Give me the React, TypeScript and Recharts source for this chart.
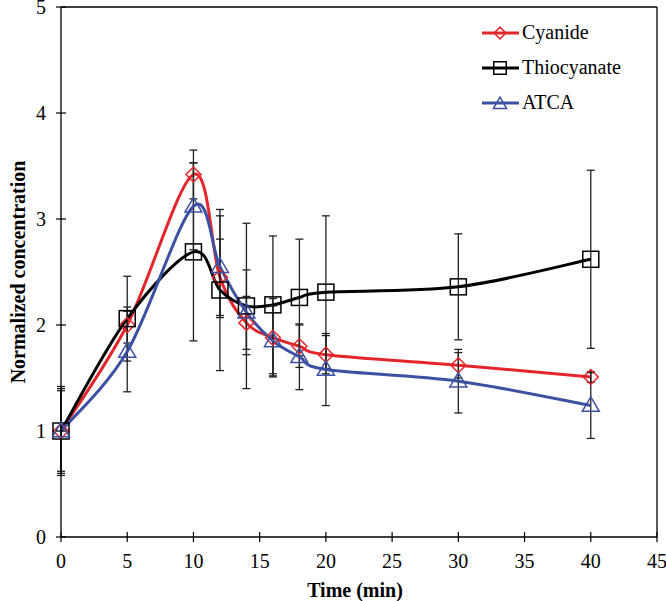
import React from "react";
import { LineChart, Line, XAxis, YAxis, ErrorBar, ReferenceLine, Legend } from "recharts";

const times = [0, 5, 10, 12, 14, 16, 18, 20, 30, 40];
const cyanide = [1.0, 2.0, 3.42, 2.45, 2.02, 1.88, 1.8, 1.72, 1.62, 1.51];
const cyanideErr = [0.38, 0.17, 0.23, 0.36, 0.25, 0.37, 0.2, 0.18, 0.12, 0.05];
const thiocyanate = [1.0, 2.06, 2.69, 2.33, 2.18, 2.19, 2.26, 2.31, 2.36, 2.62];
const thiocyanateErr = [0.42, 0.4, 0.84, 0.76, 0.78, 0.65, 0.55, 0.72, 0.5, 0.84];
const atca = [1.0, 1.75, 3.12, 2.55, 2.12, 1.85, 1.7, 1.58, 1.47, 1.24];
const atcaErr = [0.4, 0.38, 0.41, 0.48, 0.4, 0.33, 0.31, 0.34, 0.3, 0.31];
const xTicks = [0, 5, 10, 15, 20, 25, 30, 35, 40, 45];
const yTicks = [0, 1, 2, 3, 4, 5];

const RED = "#e3262b";
const BLACK = "#000000";
const BLUE = "#3d51a3";
const FONT = "'Liberation Serif', 'Times New Roman', serif";

const rows = times.map((t, i) => ({
  t,
  cyanide: cyanide[i],
  cyanideErr: cyanideErr[i],
  thiocyanate: thiocyanate[i],
  thiocyanateErr: thiocyanateErr[i],
  atca: atca[i],
  atcaErr: atcaErr[i],
}));

// excel-ish smoothing (catmull-rom through the points)
const smoothCurve = (context: any) => {
  let pts: number[][] = [];
  return {
    areaStart() {},
    areaEnd() {},
    lineStart() {
      pts = [];
    },
    point(x: number, y: number) {
      pts.push([+x, +y]);
    },
    lineEnd() {
      const n = pts.length;
      if (!n) return;
      context.moveTo(pts[0][0], pts[0][1]);
      for (let i = 0; i < n - 1; i++) {
        const p0 = pts[Math.max(i - 1, 0)];
        const p1 = pts[i];
        const p2 = pts[i + 1];
        const p3 = pts[Math.min(i + 2, n - 1)];
        context.bezierCurveTo(
          p1[0] + (p2[0] - p0[0]) / 6,
          p1[1] + (p2[1] - p0[1]) / 6,
          p2[0] - (p3[0] - p1[0]) / 6,
          p2[1] - (p3[1] - p1[1]) / 6,
          p2[0],
          p2[1]
        );
      }
    },
  };
};

function Marker({ shape, cx, cy, color, s }: { shape: string; cx: number; cy: number; color: string; s: number }) {
  if (shape === "diamond") {
    const h = s / 2;
    return (
      <polygon
        points={`${cx},${cy - h} ${cx + h},${cy} ${cx},${cy + h} ${cx - h},${cy}`}
        fill="none"
        stroke={color}
        strokeWidth={1.5}
      />
    );
  }
  if (shape === "square") {
    return <rect x={cx - s / 2} y={cy - s / 2} width={s} height={s} fill="none" stroke={color} strokeWidth={1.5} />;
  }
  const h = s * 0.85;
  return (
    <polygon
      points={`${cx},${cy - h * 0.6} ${cx + s / 2},${cy + h * 0.4} ${cx - s / 2},${cy + h * 0.4}`}
      fill="none"
      stroke={color}
      strokeWidth={1.5}
    />
  );
}

const series = [
  { key: "cyanide", name: "Cyanide", color: RED, shape: "diamond", size: 15 },
  { key: "thiocyanate", name: "Thiocyanate", color: BLACK, shape: "square", size: 16 },
  { key: "atca", name: "ATCA", color: BLUE, shape: "triangle", size: 17 },
];

function renderDot(shape: string, color: string, size: number) {
  return (p: any) => <Marker key={p.index} shape={shape} cx={p.cx} cy={p.cy} color={color} s={size} />;
}

function XTick(props: any) {
  const { x, y, payload } = props;
  return (
    <g>
      <line x1={x} x2={x} y1={y - 5} y2={y + 5} stroke="#000" strokeWidth={1.2} />
      <text x={x} y={y + 31} textAnchor="middle" fontFamily={FONT} fontSize={20} fill="#000">
        {payload.value}
      </text>
    </g>
  );
}

function YTick(props: any) {
  const { x, y, payload } = props;
  return (
    <g>
      <line x1={x - 5} x2={x + 5} y1={y} y2={y} stroke="#000" strokeWidth={1.2} />
      <text x={x - 15} y={y + 7} textAnchor="end" fontFamily={FONT} fontSize={20} fill="#000">
        {payload.value}
      </text>
    </g>
  );
}

function YTitle(props: any) {
  const { viewBox } = props;
  const cx = viewBox.x + 18;
  const cy = viewBox.y + viewBox.height / 2;
  return (
    <text
      x={cx}
      y={cy}
      transform={`rotate(-90 ${cx} ${cy})`}
      textAnchor="middle"
      dominantBaseline="central"
      fontFamily={FONT}
      fontWeight="bold"
      fontSize={20}
      fill="#000"
    >
      Normalized concentration
    </text>
  );
}

function XTitle(props: any) {
  const { viewBox } = props;
  return (
    <text
      x={viewBox.x + viewBox.width / 2 - 4}
      y={viewBox.y + 60}
      textAnchor="middle"
      fontFamily={FONT}
      fontWeight="bold"
      fontSize={20}
      fill="#000"
    >
      Time (min)
    </text>
  );
}

function LegendBox() {
  return (
    <div style={{ fontFamily: FONT, fontSize: 20, color: "#000" }}>
      {series.map((s) => (
        <div key={s.key} style={{ display: "flex", alignItems: "center", height: 35 }}>
          <svg width={40} height={20} style={{ marginRight: 1 }}>
            <line x1={1} x2={38} y1={10} y2={10} stroke={s.color} strokeWidth={3} />
            <Marker shape={s.shape} cx={19} cy={s.shape === "triangle" ? 11 : 10} color={s.color} s={s.size * 0.78} />
          </svg>
          <span>{s.name}</span>
        </div>
      ))}
    </div>
  );
}

export default function App() {
  return (
    <div style={{ position: "absolute", left: 0, top: 0, width: 666, height: 601, background: "#fff" }}>
      <LineChart width={666} height={601} data={rows} margin={{ top: 7, right: 9, left: 0, bottom: 0 }}>
        <XAxis
          dataKey="t"
          type="number"
          domain={[0, 45]}
          ticks={xTicks}
          interval={0}
          height={64}
          tickSize={0}
          tickMargin={0}
          tickLine={false}
          axisLine={{ stroke: "#000", strokeWidth: 1.3 }}
          tick={<XTick />}
          label={<XTitle />}
        />
        <YAxis
          type="number"
          domain={[0, 5]}
          ticks={yTicks}
          interval={0}
          width={61}
          tickSize={0}
          tickMargin={0}
          tickLine={false}
          axisLine={{ stroke: "#000", strokeWidth: 1.3 }}
          tick={<YTick />}
          label={<YTitle />}
        />
        <ReferenceLine y={5} stroke="#000" strokeWidth={1.3} />
        <ReferenceLine x={45} stroke="#000" strokeWidth={1.3} />
        {series.map((s) => (
          <Line
            key={s.key}
            dataKey={s.key}
            name={s.name}
            type={smoothCurve as any}
            stroke={s.color}
            strokeWidth={3}
            dot={renderDot(s.shape, s.color, s.size)}
            activeDot={false}
            isAnimationActive={false}
          >
            <ErrorBar dataKey={`${s.key}Err`} direction="y" width={4} stroke="#222" strokeWidth={1.3} />
          </Line>
        ))}
        <Legend
          layout="vertical"
          align="center"
          verticalAlign="middle"
          content={<LegendBox />}
          wrapperStyle={{ top: 15, left: 481, width: 180 }}
        />
      </LineChart>
    </div>
  );
}
